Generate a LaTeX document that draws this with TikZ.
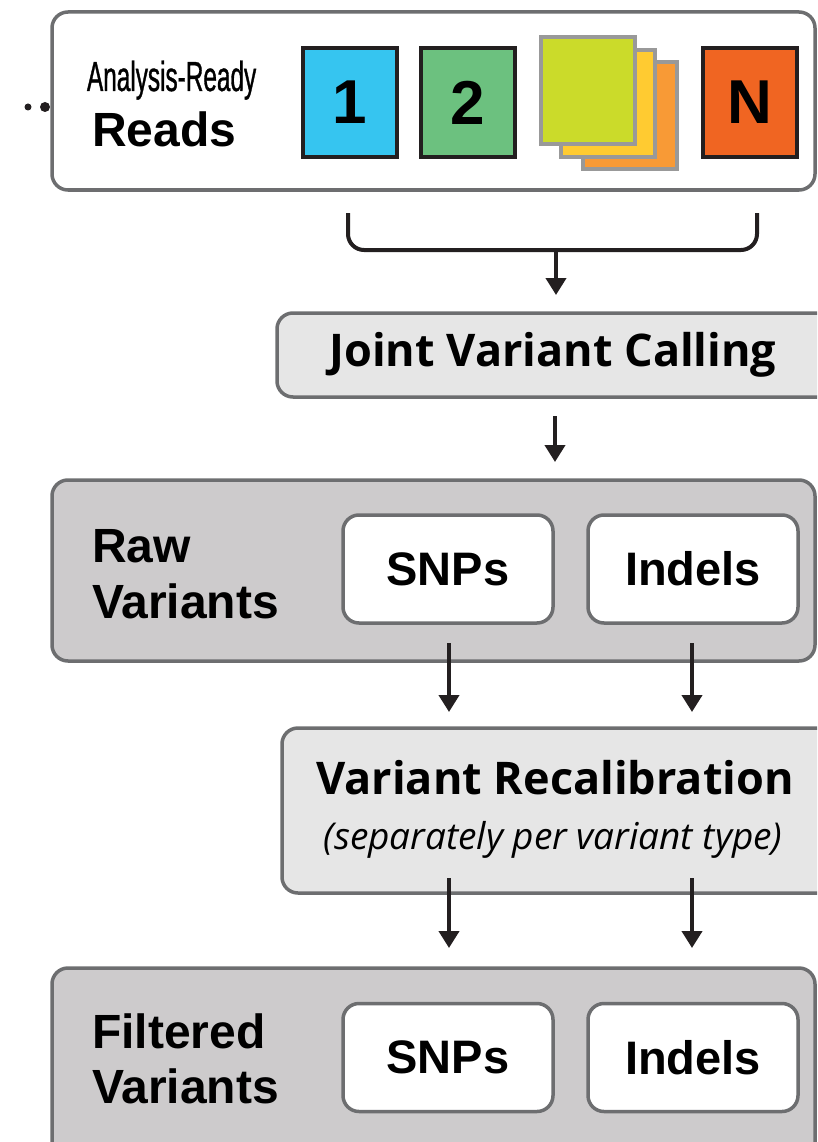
\documentclass[tikz,border=0pt]{standalone}
\usepackage{fontspec}
\setmainfont{Liberation Sans}
\newfontfamily\titlefont{Open Sans}
\newfontfamily\narrowfont[FakeStretch=0.58, FakeBold=0.8]{Liberation Sans}
\usetikzlibrary{arrows.meta}

\definecolor{bordo}{HTML}{6D6E70}
\definecolor{scuro}{HTML}{231F20}
\definecolor{grigio}{HTML}{CDCBCC}
\definecolor{chiaro}{HTML}{E6E6E6}
\definecolor{azzurro}{HTML}{36C5F0}
\definecolor{verde}{HTML}{6CC17F}
\definecolor{lime}{HTML}{CBDB2A}
\definecolor{giallo}{HTML}{FFCB31}
\definecolor{arancio}{HTML}{F89A36}
\definecolor{rosso}{HTML}{F06522}

\begin{document}
\begin{tikzpicture}[x=1pt, y=-1pt,
    every node/.style={inner sep=0pt, outer sep=0pt},
    box/.style={draw=bordo, line width=3.5pt, rounded corners=16pt},
    sample/.style={draw=scuro, line width=4pt, minimum width=94pt, minimum height=109pt,
        font=\fontsize{62}{62}\selectfont\bfseries},
    pila/.style={draw=black!40, line width=4pt, minimum width=94pt, minimum height=107pt},
    bigtxt/.style={anchor=base west, font=\fontsize{48}{56}\selectfont\bfseries},
    freccia/.style={draw=scuro, line width=4pt, -{Triangle[width=20pt,length=17pt]}}]

        \clip (0,0) rectangle (817,1142);
        \useasboundingbox (0,0) rectangle (817,1142);

        % Riquadri grandi
        \node[box, fill=white, minimum width=763pt, minimum height=178pt] (reads) at (433.5,101) {};
        \node[box, fill=chiaro, minimum width=563pt, minimum height=84pt] (jvc) at (558.5,355) {};
        \node[box, fill=grigio, minimum width=763pt, minimum height=181pt] (raw) at (433.5,570.5) {};
        \node[box, fill=chiaro, minimum width=558pt, minimum height=165pt] (vr) at (561,810.5) {};
        \node[box, fill=grigio, minimum width=763pt, minimum height=212pt] (filt) at (433.5,1074) {};

        % Puntini a sinistra
        \fill[scuro] (45,107) circle (5);
        \fill[scuro] (28,107) circle (3.5);

        % Testi
        \node[anchor=base west, font=\narrowfont\fontsize{42}{42}\selectfont] (ar) at (87,91) {Analysis-Ready};
        \node[bigtxt] (rd) at (92,147) {Reads};
        \node[font=\titlefont\fontsize{45}{45}\selectfont\bfseries] (jvctxt) at (553,355) {Joint Variant Calling};
        \node[bigtxt] (rawa) at (92,562) {Raw};
        \node[bigtxt] (rawb) at (92,618) {Variants};
        \node[font=\titlefont\fontsize{45}{45}\selectfont\bfseries] (vrtxt) at (555,778) {Variant Recalibration};
        \node[font=\titlefont\fontsize{37}{37}\selectfont\itshape] (vrsub) at (553,840) {(separately per variant type)};
        \node[bigtxt] (filta) at (92,1048) {Filtered};
        \node[bigtxt] (filtb) at (92,1103) {Variants};

        % Campioni
        \node[sample, fill=azzurro] (s1) at (350,102.5) {1};
        \node[sample, fill=verde] (s2) at (467.5,102.5) {2};
        \node[pila, fill=arancio] (p3) at (629.5,115.5) {};
        \node[pila, fill=giallo] (p2) at (608,103.5) {};
        \node[pila, fill=lime] (p1) at (587.5,91) {};
        \node[sample, fill=rosso] (sn) at (750,102.5) {N};

        % Tipi di varianti
        \node[box, fill=white, minimum width=210pt, minimum height=108pt, font=\fontsize{47}{47}\selectfont\bfseries] (snp1) at (448,569) {SNPs};
        \node[box, fill=white, minimum width=210pt, minimum height=108pt, font=\fontsize{47}{47}\selectfont\bfseries] (ind1) at (693,569) {Indels};
        \node[box, fill=white, minimum width=210pt, minimum height=108pt, font=\fontsize{47}{47}\selectfont\bfseries] (snp2) at (448,1057.5) {SNPs};
        \node[box, fill=white, minimum width=210pt, minimum height=108pt, font=\fontsize{47}{47}\selectfont\bfseries] (ind2) at (693,1057.5) {Indels};

        % Parentesi
        \coordinate (bl) at (348,213);
        \coordinate (bm) at (556,250);
        \coordinate (br) at (757,213);
        \draw[scuro, line width=4pt, rounded corners=16pt] (bl) |- (bm) -| (br);

        % Frecce
        \coordinate (t0) at (556,295);
        \coordinate (a1) at (555,416);
        \coordinate (t1) at (555,462);
        \coordinate (a2) at (449,643);
        \coordinate (t2) at (449,712);
        \coordinate (a3) at (692,643);
        \coordinate (t3) at (692,712);
        \coordinate (a4) at (449,878);
        \coordinate (t4) at (449,948);
        \coordinate (a5) at (692,878);
        \coordinate (t5) at (692,948);
        \draw[freccia] (bm) -- (t0);
        \draw[freccia] (a1) -- (t1);
        \draw[freccia] (a2) -- (t2);
        \draw[freccia] (a3) -- (t3);
        \draw[freccia] (a4) -- (t4);
        \draw[freccia] (a5) -- (t5);
        \end{tikzpicture}
\end{document}
